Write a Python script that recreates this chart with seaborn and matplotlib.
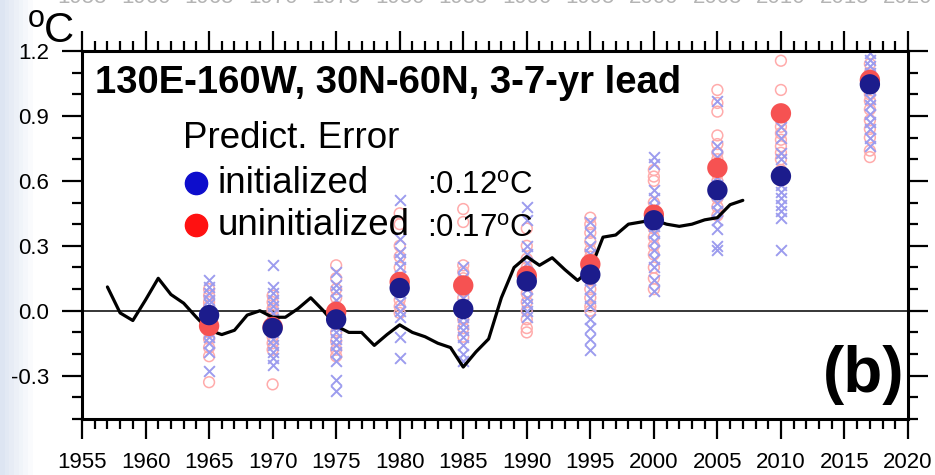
import matplotlib
matplotlib.use("Agg")
import matplotlib.pyplot as plt
import seaborn as sns
import pandas as pd
import numpy as np
from matplotlib.ticker import FixedLocator, MultipleLocator, FormatStrFormatter
from matplotlib.lines import Line2D

sns.set_style("ticks")
plt.rcParams["font.family"] = ["Liberation Sans", "DejaVu Sans"]
plt.rcParams["mathtext.fontset"] = "custom"
plt.rcParams["mathtext.rm"] = "Liberation Sans"
plt.rcParams["text.color"] = "black"
plt.rcParams["axes.labelcolor"] = "black"
plt.rcParams["xtick.color"] = "black"
plt.rcParams["ytick.color"] = "black"
plt.rcParams["axes.edgecolor"] = "black"

# ---- observed SST anomaly (smoothed), degC ----
obs_years = list(range(1957, 2008))
obs_anom = [0.11, -0.01, -0.045, 0.05, 0.15, 0.075, 0.035, -0.03, -0.09, -0.11,
            -0.09, -0.02, 0.0, -0.03, -0.03, 0.01, 0.06, 0.0, -0.07, -0.10,
            -0.10, -0.16, -0.11, -0.065, -0.10, -0.12, -0.15, -0.17, -0.26, -0.19,
            -0.13, 0.06, 0.20, 0.25, 0.21, 0.245, 0.19, 0.14, 0.19, 0.34,
            0.35, 0.40, 0.41, 0.42, 0.40, 0.39, 0.40, 0.42, 0.43, 0.49,
            0.51]

# ---- hindcast start years and ensemble means ----
hind_years = [1965, 1970, 1975, 1980, 1985, 1990, 1995, 2000, 2005, 2010, 2017]
init_mean = [-0.02, -0.08, -0.04, 0.105, 0.008, 0.136, 0.167, 0.418, 0.557, 0.622, 1.046]
uninit_mean = [-0.07, -0.075, -0.005, 0.133, 0.117, 0.162, 0.215, 0.444, 0.66, 0.912, 1.066]

# ---- individual members (one list per hindcast year) ----
init_members = [
    [0.14, 0.11, 0.08, 0.05, 0.03, 0.0, -0.02, -0.04, -0.06, -0.08, -0.10, -0.12, -0.15, -0.19, -0.28],
    [0.21, 0.11, 0.08, 0.05, 0.02, -0.01, -0.04, -0.07, -0.10, -0.13, -0.16, -0.19, -0.22, -0.25],
    [0.18, 0.12, 0.09, 0.05, 0.01, -0.03, -0.07, -0.10, -0.13, -0.16, -0.19, -0.23, -0.32, -0.37],
    [0.51, 0.33, 0.27, 0.24, 0.20, 0.16, 0.12, 0.08, 0.04, 0.0, -0.03, -0.12, -0.22],
    [0.20, 0.15, 0.10, 0.06, 0.03, 0.0, -0.03, -0.06, -0.09, -0.12, -0.16, -0.20, -0.23],
    [0.48, 0.42, 0.30, 0.26, 0.22, 0.18, 0.14, 0.10, 0.06, 0.03, 0.0, -0.03],
    [0.41, 0.36, 0.30, 0.26, 0.22, 0.18, 0.14, 0.10, 0.06, 0.02, -0.04, -0.08, -0.13, -0.18],
    [0.71, 0.68, 0.56, 0.52, 0.48, 0.45, 0.42, 0.39, 0.36, 0.32, 0.28, 0.24, 0.20, 0.14, 0.09],
    [0.97, 0.76, 0.71, 0.66, 0.62, 0.58, 0.54, 0.50, 0.46, 0.42, 0.38, 0.30, 0.28],
    [0.85, 0.80, 0.73, 0.70, 0.62, 0.58, 0.55, 0.52, 0.49, 0.46, 0.43, 0.28],
    [1.19, 1.16, 1.13, 1.10, 1.06, 1.02, 0.98, 0.95, 0.91, 0.87, 0.84, 0.80, 0.76],
]
uninit_members = [
    [0.10, 0.07, 0.04, 0.02, -0.01, -0.03, -0.05, -0.08, -0.10, -0.13, -0.17, -0.21, -0.33],
    [0.07, 0.04, 0.01, 0.0, -0.02, -0.05, -0.09, -0.12, -0.15, -0.18, -0.34],
    [0.21, 0.15, 0.10, 0.06, 0.02, -0.02, -0.06, -0.10, -0.14, -0.18, -0.21],
    [0.45, 0.40, 0.30, 0.25, 0.20, 0.15, 0.12, 0.09, 0.05, 0.02, -0.01],
    [0.47, 0.41, 0.21, 0.18, 0.15, 0.12, 0.09, 0.06, 0.03, 0.0, -0.04, -0.08, -0.12],
    [0.38, 0.30, 0.24, 0.20, 0.16, 0.12, 0.08, 0.04, 0.0, -0.04, -0.08, -0.10],
    [0.43, 0.40, 0.36, 0.32, 0.28, 0.25, 0.22, 0.18, 0.14, 0.10, 0.06, 0.02, 0.0],
    [0.65, 0.62, 0.60, 0.50, 0.46, 0.43, 0.38, 0.34, 0.30, 0.26, 0.20, 0.15, 0.10],
    [1.02, 0.96, 0.92, 0.81, 0.77, 0.73, 0.70, 0.63, 0.60, 0.56, 0.52, 0.48, 0.44],
    [1.155, 1.02, 0.88, 0.85, 0.82, 0.79, 0.76, 0.73, 0.70, 0.65, 0.60],
    [1.14, 1.10, 1.08, 1.04, 1.00, 0.97, 0.93, 0.88, 0.84, 0.80, 0.74, 0.71],
]

error_init = "0.12"
error_uninit = "0.17"

# ---- tidy tables ----
obs_df = pd.DataFrame({"year": obs_years, "anom": obs_anom})
mean_df = pd.DataFrame({"year": hind_years, "init": init_mean, "uninit": uninit_mean})
init_df = pd.DataFrame([(y, v) for y, vals in zip(hind_years, init_members) for v in vals],
                       columns=["year", "anom"])
uninit_df = pd.DataFrame([(y, v) for y, vals in zip(hind_years, uninit_members) for v in vals],
                         columns=["year", "anom"])

W, H = 935, 475
fig = plt.figure(figsize=(W / 100, H / 100), dpi=100)

# pale slide background at the left edge
bg = fig.add_axes([0, 0, 1, 1], zorder=-5)
grad = np.ones((2, 200, 3))
fade = np.clip(np.linspace(0, 1, 200) / 0.035, 0, 1)
base = np.array([0.87, 0.90, 0.95])
for c in range(3):
    grad[:, :, c] = base[c] + (1 - base[c]) * fade
bg.imshow(grad, extent=[0, 1, 0, 1], aspect="auto")
bg.set_xlim(0, 1)
bg.set_ylim(0, 1)
bg.axis("off")

ax = fig.add_axes([82 / W, 1 - 419 / H, (908 - 82) / W, (419 - 51) / H])
ax.set_facecolor("white")

ax.axhline(0, color="black", lw=1.1, zorder=1.5)

sns.scatterplot(data=uninit_df, x="year", y="anom", ax=ax, marker="o", s=60,
                facecolor="none", edgecolor="#ffabab", linewidth=1.1, zorder=2,
                legend=False)
sns.scatterplot(data=init_df, x="year", y="anom", ax=ax, marker="x", s=60,
                color="#9c9cee", linewidth=1.4, zorder=2.2, legend=False)

sns.lineplot(data=obs_df, x="year", y="anom", ax=ax, color="black", lw=2.3,
             zorder=3, legend=False)

sns.scatterplot(data=mean_df, x="year", y="uninit", ax=ax, s=215, color="#f65252",
                edgecolor="none", linewidth=0, zorder=4, legend=False)
sns.scatterplot(data=mean_df, x="year", y="init", ax=ax, s=215, color="#1c1c8c",
                edgecolor="none", linewidth=0, zorder=5, legend=False)

ax.set_xlim(1955, 2020)
ax.set_ylim(-0.5, 1.2)
ax.xaxis.set_major_locator(MultipleLocator(5))
ax.xaxis.set_minor_locator(MultipleLocator(1))
ax.yaxis.set_major_locator(FixedLocator([-0.3, 0.0, 0.3, 0.6, 0.9, 1.2]))
ax.yaxis.set_minor_locator(FixedLocator([-0.5, -0.4, -0.2, -0.1, 0.1, 0.2, 0.4, 0.5,
                                         0.7, 0.8, 1.0, 1.1]))
ax.yaxis.set_major_formatter(FormatStrFormatter("%.1f"))
ax.xaxis.set_major_formatter(FormatStrFormatter("%d"))
ax.set_xlabel("")
ax.set_ylabel("")

ax.tick_params(which="major", direction="out", length=14.5, width=1.6,
               top=True, right=True, labelsize=16, pad=9, colors="black")
ax.tick_params(which="minor", direction="out", length=7.5, width=1.6,
               top=True, right=True, colors="black")
for sp in ax.spines.values():
    sp.set_visible(True)
    sp.set_linewidth(2.2)
    sp.set_color("black")


def fx(px):
    return px / W


def fy(py):
    return 1 - py / H


# axis unit: raised ring followed by a large C
fig.text(fx(28), fy(27), "o", fontsize=22, ha="left", va="baseline")
fig.text(fx(44), fy(42), "C", fontsize=30, ha="left", va="baseline")

# panel title and tag
fig.text(fx(95), fy(93), "130E-160W, 30N-60N, 3-7-yr lead", fontsize=27.5,
         fontweight="bold", ha="left", va="baseline")
fig.text(fx(904), fy(392), "(b)", fontsize=46, fontweight="bold",
         ha="right", va="baseline")

# prediction-error key
fig.text(fx(183), fy(148), "Predict. Error", fontsize=26.5, ha="left", va="baseline")
fig.text(fx(218), fy(193), "initialized", fontsize=26.5, ha="left", va="baseline")
fig.text(fx(218), fy(235), "uninitialized", fontsize=26.5, ha="left", va="baseline")
fig.text(fx(427), fy(194), r":" + error_init + r"$^{\rm o}$C", fontsize=22.5,
         ha="left", va="baseline")
fig.text(fx(427), fy(237), r":" + error_uninit + r"$^{\rm o}$C", fontsize=22.5,
         ha="left", va="baseline")
fig.add_artist(Line2D([fx(196)], [fy(183)], marker="o", markersize=16,
                      color="#0d0dcc", transform=fig.transFigure))
fig.add_artist(Line2D([fx(196)], [fy(225)], marker="o", markersize=16,
                      color="#ff1111", transform=fig.transFigure))

# tick labels of the panel above, cut by the top edge
for yr in range(1955, 2021, 5):
    xp = 82 + (yr - 1955) * (908 - 82) / 65
    fig.text(fx(xp), fy(3), str(yr), fontsize=16, ha="center", va="baseline",
             color="#b4b4b4")

fig.savefig("out.png", dpi=100)
